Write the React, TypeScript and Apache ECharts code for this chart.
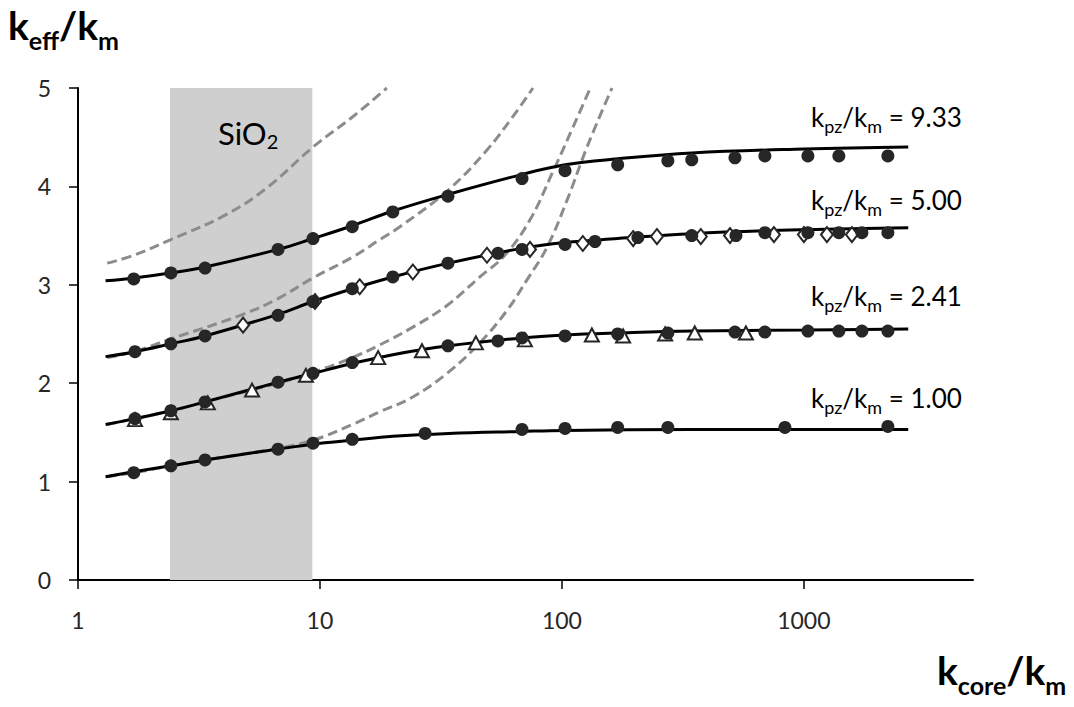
import React, { useEffect, useRef } from "react";
import * as echarts from "echarts";

const FONT = "Lato, 'Open Sans', sans-serif";
const TEXT = "#262626";

// axis ticks
const xTickValues = [1, 10, 100, 1000];
const xRange = [1, 5000];
const yRange = [0, 5];
const yStep = 1;

// SiO2 shaded band (k_core/k_m)
const sio2Band = [2.4, 9.3];

// model curves (solid black)
const fit933 = [[1.3, 3.04], [1.7, 3.07], [2.42, 3.12], [3.35, 3.18], [6.71, 3.36], [9.36, 3.47], [13.6, 3.6], [20, 3.75], [34, 3.92], [68, 4.12], [103, 4.22], [170, 4.28], [344, 4.34], [1000, 4.38], [2700, 4.4]];
const fit500 = [[1.3, 2.27], [1.72, 2.32], [2.42, 2.4], [3.35, 2.48], [6.71, 2.7], [9.36, 2.83], [13.6, 2.96], [20, 3.08], [34, 3.22], [68, 3.37], [103, 3.43], [170, 3.47], [344, 3.52], [1000, 3.56], [2700, 3.58]];
const fit241 = [[1.3, 1.58], [1.72, 1.64], [2.42, 1.72], [3.35, 1.81], [6.71, 2.01], [9.36, 2.1], [13.6, 2.2], [20, 2.29], [34, 2.38], [68, 2.46], [103, 2.49], [170, 2.51], [344, 2.53], [1000, 2.54], [2700, 2.55]];
const fit100 = [[1.3, 1.05], [1.7, 1.1], [2.42, 1.16], [3.35, 1.22], [6.71, 1.33], [9.36, 1.38], [13.6, 1.42], [20, 1.46], [34, 1.49], [68, 1.51], [103, 1.52], [344, 1.53], [2700, 1.53]];

// dilute approximations (grey dashed)
const dil933 = [[1.32, 3.22], [1.7, 3.3], [2.42, 3.46], [4.0, 3.7], [6.0, 3.98], [9.36, 4.4], [13.7, 4.71], [18.9, 5.0]];
const dil500 = [[1.32, 2.26], [1.7, 2.32], [2.42, 2.45], [4.81, 2.7], [6.71, 2.86], [9.36, 3.07], [13.6, 3.28], [17.7, 3.46], [21.4, 3.59], [33.8, 3.96], [49, 4.37], [62.7, 4.71], [75.9, 5.0]];
const dil241 = [[1.32, 1.58], [2.42, 1.72], [3.35, 1.81], [6.71, 2.0], [9.36, 2.11], [13.6, 2.26], [17.7, 2.39], [24.2, 2.57], [33.5, 2.79], [45.8, 3.08], [58.1, 3.3], [73.8, 3.66], [91.8, 4.15], [111, 4.6], [131, 5.0]];
const dil100 = [[1.32, 1.05], [1.7, 1.09], [2.42, 1.16], [3.35, 1.22], [6.71, 1.34], [9.36, 1.42], [13.6, 1.58], [17.7, 1.71], [24.2, 1.86], [33.5, 2.1], [45.8, 2.41], [59.3, 2.74], [71.7, 3.05], [86.7, 3.38], [105, 3.86], [127, 4.4], [161, 5.0]];

// simulation points (filled circles)
const pts933 = [[1.7, 3.06], [2.42, 3.12], [3.35, 3.17], [6.71, 3.36], [9.36, 3.47], [13.6, 3.59], [20, 3.74], [33.8, 3.9], [68.4, 4.08], [103, 4.16], [170, 4.22], [274, 4.26], [344, 4.27], [519, 4.29], [690, 4.31], [1039, 4.31], [1395, 4.31], [2224, 4.31]];
const pts500 = [[1.72, 2.32], [2.42, 2.4], [3.35, 2.48], [6.71, 2.69], [9.36, 2.83], [13.6, 2.96], [20, 3.08], [33.8, 3.22], [54.4, 3.32], [68.4, 3.36], [103, 3.41], [137, 3.44], [206, 3.48], [344, 3.5], [524, 3.5], [690, 3.53], [1039, 3.53], [1395, 3.53], [1737, 3.53], [2224, 3.53]];
const pts241 = [[1.72, 1.64], [2.42, 1.72], [3.35, 1.81], [6.71, 2.01], [9.36, 2.1], [13.6, 2.21], [33.8, 2.38], [54.4, 2.43], [68.4, 2.46], [103, 2.48], [170, 2.5], [274, 2.51], [519, 2.52], [690, 2.52], [1039, 2.53], [1395, 2.53], [1737, 2.53], [2224, 2.53]];
const pts100 = [[1.7, 1.09], [2.42, 1.16], [3.35, 1.22], [6.71, 1.33], [9.36, 1.39], [13.6, 1.43], [27.2, 1.49], [68.4, 1.53], [103, 1.54], [170, 1.55], [274, 1.55], [835, 1.55], [2224, 1.56]];

// second data set (open diamonds / open triangles)
const diam500 = [[4.81, 2.59], [9.54, 2.83], [14.6, 2.98], [24.2, 3.13], [49, 3.3], [73.8, 3.36], [122, 3.42], [197, 3.47], [247, 3.49], [375, 3.49], [495, 3.5], [752, 3.51], [1000, 3.51], [1245, 3.51], [1579, 3.51]];
const tri241 = [[1.72, 1.63], [2.42, 1.7], [3.44, 1.8], [5.24, 1.93], [8.75, 2.08], [17.4, 2.26], [26.4, 2.33], [44.1, 2.41], [70.3, 2.44], [133, 2.49], [179, 2.48], [267, 2.5], [354, 2.51], [576, 2.51]];

// curve labels
const curveLabels = [
  { ratio: "9.33", y: 117 },
  { ratio: "5.00", y: 200 },
  { ratio: "2.41", y: 296 },
  { ratio: "1.00", y: 398 },
];

const subRich = (size: number, sub: number, pad: number, bold = false) => ({
  n: { fontSize: size, fontFamily: FONT, color: TEXT, verticalAlign: "middle", fontWeight: bold ? "bold" : "normal" },
  s: { fontSize: sub, fontFamily: FONT, color: TEXT, verticalAlign: "middle", padding: [pad, 0, 0, 0], fontWeight: bold ? "bold" : "normal" },
});

export default function App() {
  const ref = useRef<HTMLDivElement>(null);
  useEffect(() => {
    if (!ref.current) return;
    const chart = echarts.init(ref.current, undefined, { renderer: "svg" });

    const dashed = (data: number[][]) => ({
      type: "line",
      data,
      smooth: 0.4,
      showSymbol: false,
      symbol: "none",
      z: 3,
      lineStyle: { color: "#8c8c8c", width: 3, type: [10, 5] },
      silent: true,
    });
    const fit = (data: number[][]) => ({
      type: "line",
      data,
      smooth: 0.4,
      showSymbol: false,
      symbol: "none",
      z: 4,
      lineStyle: { color: "#000", width: 3 },
      silent: true,
    });
    const circles = (data: number[][]) => ({
      type: "scatter",
      data,
      symbol: "circle",
      symbolSize: 13,
      z: 6,
      itemStyle: { color: "#262626", opacity: 1 },
    });

    const option: any = {
      animation: false,
      backgroundColor: "#fff",
      grid: { left: 78, top: 88, width: 895, height: 492, containLabel: false },
      xAxis: {
        type: "log",
        logBase: 10,
        min: xRange[0],
        max: xRange[1],
        axisLine: { show: true, onZero: false, lineStyle: { color: "#000", width: 2 } },
        axisTick: { show: true, length: 9, customValues: xTickValues, lineStyle: { color: "#000", width: 1.5 } },
        axisLabel: {
          customValues: xTickValues,
          formatter: (v: number) => String(Math.round(v)),
          fontSize: 23,
          fontFamily: FONT,
          color: TEXT,
          margin: 28,
        },
        splitLine: { show: false },
        minorTick: { show: false },
      },
      yAxis: {
        type: "value",
        min: yRange[0],
        max: yRange[1],
        interval: yStep,
        axisLine: { show: true, onZero: false, lineStyle: { color: "#000", width: 2 } },
        axisTick: { show: true, length: 9, lineStyle: { color: "#000", width: 1.5 } },
        axisLabel: { fontSize: 23, fontFamily: FONT, color: TEXT, margin: 27 },
        splitLine: { show: false },
      },
      series: [
        {
          type: "line",
          data: [],
          z: 1,
          silent: true,
          markArea: {
            silent: true,
            itemStyle: { color: "#d0cfd0" },
            data: [[{ xAxis: sio2Band[0], yAxis: yRange[0] }, { xAxis: sio2Band[1], yAxis: yRange[1] }]],
          },
        },
        dashed(dil933),
        dashed(dil500),
        dashed(dil241),
        dashed(dil100),
        fit(fit933),
        fit(fit500),
        fit(fit241),
        fit(fit100),
        {
          type: "scatter",
          data: diam500,
          symbol: "emptyDiamond",
          symbolSize: [12, 15],
          z: 5,
          itemStyle: { color: "#262626", borderWidth: 2, opacity: 1 },
        },
        {
          type: "scatter",
          data: tri241,
          symbol: "emptyTriangle",
          symbolSize: [14, 13],
          z: 5,
          itemStyle: { color: "#262626", borderWidth: 2, opacity: 1 },
        },
        circles(pts933),
        circles(pts500),
        circles(pts241),
        circles(pts100),
      ],
      graphic: [
        {
          type: "text",
          x: 8,
          y: 25,
          style: {
            text: "{n|k}{s|eff}{n|/k}{s|m}",
            rich: subRich(39, 25, 30, true),
            verticalAlign: "middle",
          },
        },
        {
          type: "text",
          x: 937,
          y: 670,
          style: {
            text: "{n|k}{s|core}{n|/k}{s|m}",
            rich: subRich(39, 25, 30, true),
            verticalAlign: "middle",
          },
        },
        {
          type: "text",
          x: 218,
          y: 133,
          z: 10,
          style: {
            text: "{n|SiO}{s|2}",
            rich: subRich(31, 20, 16),
            verticalAlign: "middle",
          },
        },
        ...curveLabels.map((l) => ({
          type: "text",
          x: 811,
          y: l.y,
          z: 10,
          style: {
            text: `{n|k}{s|pz}{n|/k}{s|m}{n| = ${l.ratio}}`,
            rich: subRich(26, 18, 18),
            verticalAlign: "middle",
          },
        })),
      ],
    };
    chart.setOption(option);
    return () => chart.dispose();
  }, []);
  return <div ref={ref} style={{ width: 1074, height: 707, margin: -8 }} />;
}
